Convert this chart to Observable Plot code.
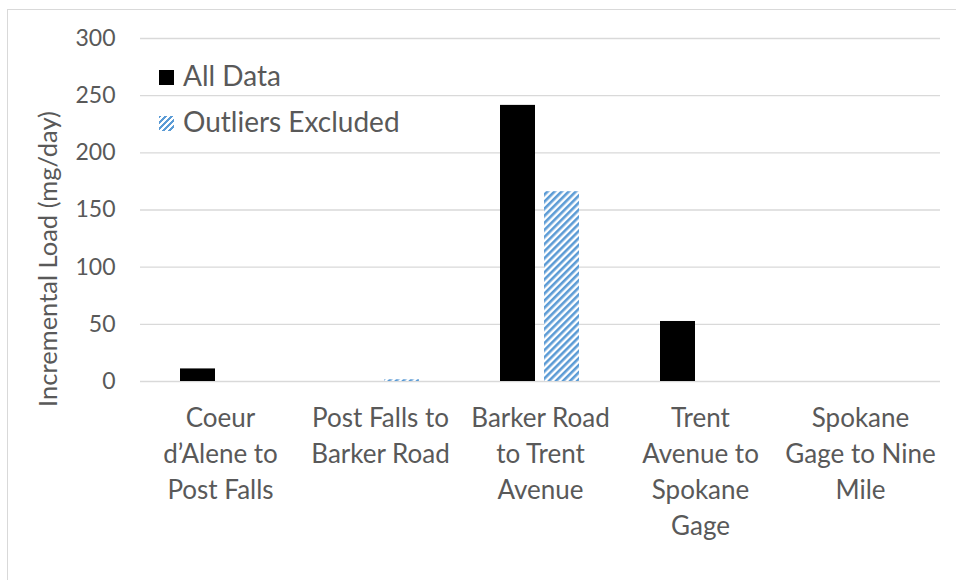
<!DOCTYPE html>
<html><head><meta charset="utf-8">
<script src="https://cdn.jsdelivr.net/npm/d3@7"></script>
<script src="https://cdn.jsdelivr.net/npm/@observablehq/plot@0.6"></script>
<style>
body{margin:0;background:#fff;font-family:Lato,"Open Sans",sans-serif;}
#wrap{position:relative;width:956px;height:580px;overflow:hidden;}
#frame{position:absolute;left:7px;top:9px;width:960px;height:600px;border:1px solid #d9d9d9;box-sizing:border-box;pointer-events:none;}
#chart{position:absolute;left:0;top:0;}
.leg{position:absolute;left:159px;color:#595959;font-size:28px;line-height:28px;white-space:nowrap;}
.sw{display:inline-block;width:15px;height:15px;margin-right:9px;vertical-align:1px;}
#ylab{position:absolute;left:47px;top:259px;transform:translate(-50%,-50%) rotate(-90deg);color:#595959;font-size:25.5px;white-space:nowrap;}
</style></head>
<body>
<div id="wrap">
  <div id="frame"></div>
  <div id="chart"></div>
  <div class="leg" style="top:61px"><span class="sw" style="background:#000"></span>All Data</div>
  <div class="leg" style="top:107px"><span class="sw" style="background:repeating-linear-gradient(135deg,#5b9bd5 0 2px,#fff 2px 4.2px)"></span>Outliers Excluded</div>
  <div id="ylab"></div>
</div>
<script>
const segments = ["Coeur\nd’Alene to\nPost Falls", "Post Falls to\nBarker Road", "Barker Road\nto Trent\nAvenue", "Trent\nAvenue to\nSpokane\nGage", "Spokane\nGage to Nine\nMile"];
const series = ["All Data", "Outliers Excluded"];
const allData = [11, 0, 241.5, 52.5, 0];
const outliersExcluded = [0, 1.5, 166, 0, 0];
const yTicks = [0, 50, 100, 150, 200, 250, 300];
const yLabel = "Incremental Load (mg/day)";

document.getElementById("ylab").textContent = yLabel;

const rowsAll = segments.map((s, i) => ({segment: s, series: series[0], value: allData[i]}));
const rowsOut = segments.map((s, i) => ({segment: s, series: series[1], value: outliersExcluded[i]}));

const chart = Plot.plot({
  width: 956, height: 580,
  marginLeft: 140, marginRight: 16, marginTop: 38, marginBottom: 199,
  style: {fontFamily: "Lato, 'Open Sans', sans-serif", color: "#595959", background: "transparent", overflow: "visible"},
  fx: {domain: segments, padding: 0, label: null},
  x: {domain: series, paddingInner: 0.2, paddingOuter: 0.878, axis: null},
  y: {domain: [0, 300], label: null},
  marks: [
    Plot.gridY(yTicks, {stroke: "#d9d9d9", strokeOpacity: 1, strokeWidth: 1.4}),
    Plot.barY(rowsAll, {fx: "segment", x: "series", y: "value", fill: "#000"}),
    Plot.barY(rowsOut, {fx: "segment", x: "series", y: "value", fill: "url(#stripes)"}),
    Plot.axisY(yTicks, {tickSize: 0, tickPadding: 25, fontSize: 23, label: null}),
    Plot.axisFx({anchor: "bottom", tickSize: 0, tickPadding: 20, fontSize: 26, lineHeight: 1.385, label: null})
  ]
});

const svg = d3.select(chart);
const pat = svg.insert("defs", ":first-child").append("pattern")
  .attr("id", "stripes").attr("patternUnits", "userSpaceOnUse")
  .attr("width", 5).attr("height", 5).attr("patternTransform", "rotate(45)");
pat.append("rect").attr("width", 5).attr("height", 5).attr("fill", "#fff");
pat.append("rect").attr("width", 2.6).attr("height", 5).attr("fill", "#5b9bd5");

document.getElementById("chart").appendChild(chart);
</script>
</body></html>
